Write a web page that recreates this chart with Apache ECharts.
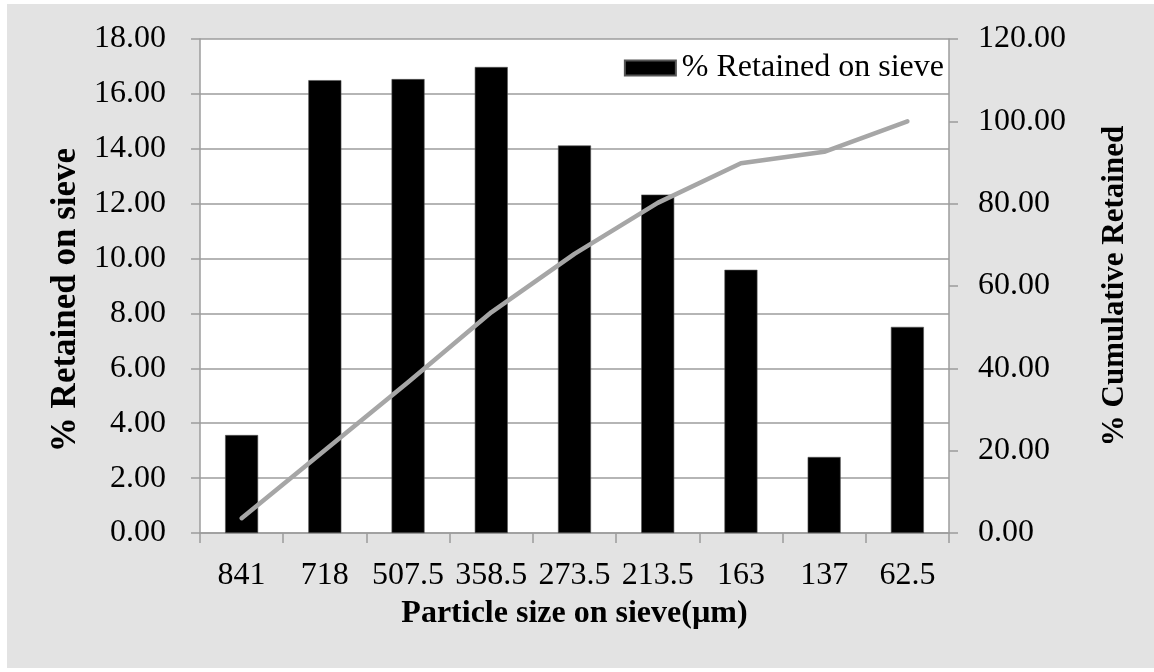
<!DOCTYPE html>
<html>
<head>
<meta charset="utf-8">
<script src="https://cdn.jsdelivr.net/npm/echarts@6/dist/echarts.min.js"></script>
<style>
html,body{margin:0;padding:0;background:#ffffff;}
#bg{position:absolute;left:7px;top:4px;width:1147px;height:664px;background:#e3e3e3;}
#chart{position:absolute;left:0;top:0;width:1154px;height:672px;}
</style>
</head>
<body>
<div id="bg"></div>
<div id="chart"></div>
<script>
const categories = ['841', '718', '507.5', '358.5', '273.5', '213.5', '163', '137', '62.5'];
const retained = [3.57, 16.50, 16.54, 16.98, 14.12, 12.33, 9.59, 2.77, 7.51];
const cumulative = [3.6, 20.1, 36.6, 53.6, 67.8, 80.2, 89.8, 92.6, 100.0];
const leftTicks = { min: 0, max: 18, interval: 2 };
const rightTicks = { min: 0, max: 120, interval: 20 };

const FONT = "'Liberation Serif', 'Times New Roman', serif";
const gridGray = '#9c9c9c';

const chart = echarts.init(document.getElementById('chart'), null, { renderer: 'canvas' });
chart.setOption({
  backgroundColor: 'transparent',
  animation: false,
  textStyle: { fontFamily: FONT, color: '#000' },
  grid: {
    left: 200, right: 205, top: 39, bottom: 139,
    show: true, backgroundColor: '#ffffff', borderWidth: 0
  },
  legend: {
    data: ['% Retained on sieve'],
    right: 205, top: 47,
    itemWidth: 51, itemHeight: 15, itemGap: 6,
    icon: 'rect',
    textStyle: { fontFamily: FONT, fontSize: 32, color: '#000', padding: [0, 0, 0, 1] }
  },
  xAxis: {
    type: 'category',
    data: categories,
    name: 'Particle size on sieve(\u00b5m)',
    nameLocation: 'middle',
    nameGap: 65,
    nameTextStyle: { fontFamily: FONT, fontSize: 32, fontWeight: 'bold', color: '#000' },
    axisLine: { lineStyle: { color: gridGray, width: 1.5 } },
    axisTick: { show: true, length: 10, inside: false, interval: 0, lineStyle: { color: gridGray, width: 1.5 } },
    axisLabel: { fontFamily: FONT, fontSize: 32, color: '#000', margin: 27, interval: 0 },
    splitLine: { show: false }
  },
  yAxis: [
    {
      type: 'value',
      min: leftTicks.min, max: leftTicks.max, interval: leftTicks.interval,
      name: '% Retained on sieve',
      nameLocation: 'middle',
      nameGap: 102,
      nameRotate: 90,
      nameTextStyle: { fontFamily: FONT, fontSize: 35, fontWeight: 'bold', color: '#000', padding: [0, 28, 0, 0] },
      axisLine: { show: true, lineStyle: { color: gridGray, width: 1.5 } },
      axisTick: { show: true, length: 9, lineStyle: { color: gridGray, width: 1.5 } },
      axisLabel: { fontFamily: FONT, fontSize: 32, color: '#000', margin: 34, formatter: v => v.toFixed(2) },
      splitLine: { show: true, lineStyle: { color: gridGray, width: 1.5 } }
    },
    {
      type: 'value',
      min: rightTicks.min, max: rightTicks.max, interval: rightTicks.interval,
      position: 'right',
      name: '% Cumulative Retained',
      nameLocation: 'middle',
      nameGap: 150,
      nameRotate: 90,
      nameTextStyle: { fontFamily: FONT, fontSize: 31, fontWeight: 'bold', color: '#000' },
      axisLine: { show: true, lineStyle: { color: gridGray, width: 1.5 } },
      axisTick: { show: true, length: 9, lineStyle: { color: gridGray, width: 1.5 } },
      axisLabel: { fontFamily: FONT, fontSize: 32, color: '#000', margin: 29, formatter: v => v.toFixed(2) },
      splitLine: { show: false }
    }
  ],
  series: [
    {
      name: '% Retained on sieve',
      type: 'bar',
      data: retained,
      yAxisIndex: 0,
      barWidth: 33,
      itemStyle: { color: '#000000', borderColor: '#555', borderWidth: 0.6 }
    },
    {
      name: '% Cumulative Retained',
      type: 'line',
      data: cumulative,
      yAxisIndex: 1,
      showSymbol: false,
      symbol: 'none',
      lineStyle: { color: '#a6a6a6', width: 4.5, cap: 'round', join: 'round' },
      z: 5
    }
  ]
});
</script>
</body>
</html>
